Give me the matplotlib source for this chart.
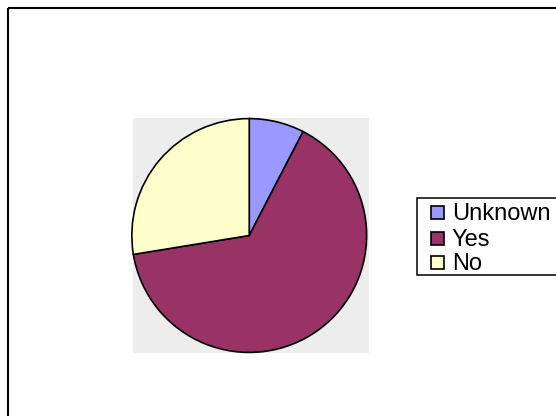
import matplotlib
matplotlib.use("Agg")
import matplotlib.pyplot as plt
from matplotlib.patches import Rectangle
from matplotlib.transforms import Affine2D

plt.rcParams['font.family'] = ['Liberation Sans', 'DejaVu Sans']

# survey answers
labels = ['Unknown', 'Yes', 'No']
counts = [11, 94, 40]
colors = ['#9999FF', '#993366', '#FFFFCC']

W, H = 556, 416
fig = plt.figure(figsize=(W / 100, H / 100), dpi=100)

# pixel coordinates measured from the top-left corner
px = Affine2D().scale(1 / W, -1 / H).translate(0, 1) + fig.transFigure

# outer chart frame (runs off the right and bottom edges)
fig.patches.append(Rectangle((8, 8), 600, 500, transform=px, fill=False,
                             edgecolor='black', linewidth=1.5))

# plot area with grey fill
ax = fig.add_axes([133 / W, (H - 353) / H, 236 / W, 235 / H])
ax.set_facecolor('#EDEDED')
ax.pie(counts, colors=colors, startangle=90, counterclock=False,
       radius=0.995, center=(-0.015, 0.0), frame=True,
       wedgeprops=dict(edgecolor='black', linewidth=1.2))
ax.set_xlim(-1.0, 1.0)
ax.set_ylim(-1.0, 1.0)
ax.set_aspect('auto')
ax.set_xticks([])
ax.set_yticks([])
for s in ax.spines.values():
    s.set_visible(False)

# legend box, drawn by hand
fig.patches.append(Rectangle((417, 198), 150, 77, transform=px,
                             facecolor='white', edgecolor='black',
                             linewidth=1.1))
baselines = [220, 245.5, 270]
for lab, col, yb in zip(labels, colors, baselines):
    fig.patches.append(Rectangle((431, yb - 14), 13, 13, transform=px,
                                 facecolor=col, edgecolor='black',
                                 linewidth=1.2))
    fig.text(452, yb, lab, transform=px, fontsize=17,
             ha='left', va='baseline')

fig.savefig('out.png', dpi=100)
